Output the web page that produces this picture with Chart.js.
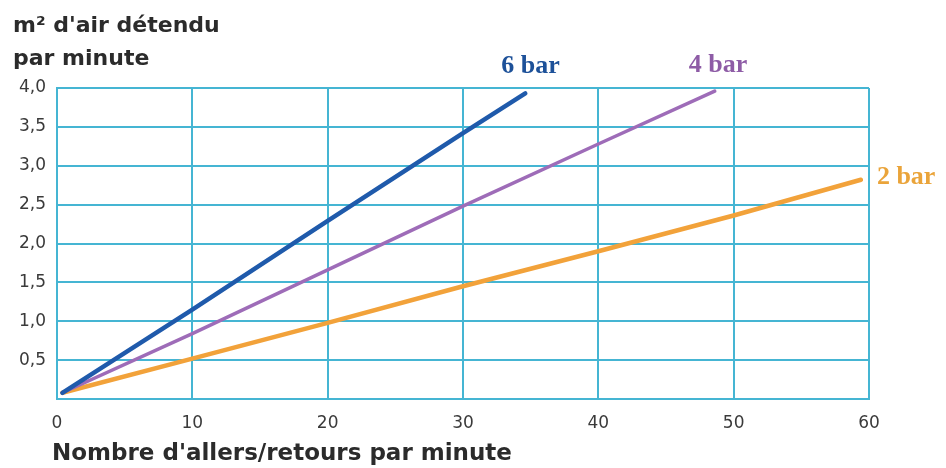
<!DOCTYPE html>
<html>
<head>
<meta charset="utf-8">
<script src="https://cdn.jsdelivr.net/npm/chart.js@4"></script>
<style>
  html, body { margin: 0; padding: 0; background: #fff; }
  #wrap { width: 946px; height: 468px; }
</style>
</head>
<body>
<div id="wrap"><canvas id="airChart"></canvas></div>
<script>
// values (x = allers/retours par minute, y = m² d'air)
const seriesNames = ['6 bar', '4 bar', '2 bar'];
const x6 = [0.4, 10, 20, 30, 34.6];
const y6 = [0.08, 1.15, 2.29, 3.42, 3.93];
const x4 = [0.4, 10, 20, 30, 40, 48.6];
const y4 = [0.08, 0.84, 1.66, 2.48, 3.28, 3.96];
const x2 = [0.4, 10, 20, 30, 40, 50, 59.4];
const y2 = [0.08, 0.52, 0.98, 1.45, 1.9, 2.36, 2.82];
const xTickLabels = ['0', '10', '20', '30', '40', '50', '60'];
const yTickLabels = ['', '0,5', '1,0', '1,5', '2,0', '2,5', '3,0', '3,5', '4,0'];

const lineColors = ['#1f5aab', '#9e6cb8', '#f2a23a'];
const labelColors = ['#1d5199', '#8e5ca6', '#eaa43a'];
const labelOffsets = [[-24, -27], [-26, -26], [16, -2]];
const gridColor = '#45b5d3';

function toPoints(xs, ys) {
  return xs.map((x, i) => ({ x: x, y: ys[i] }));
}

// draws the axis titles and the "x bar" labels
const textPlugin = {
  id: 'chartTexts',
  afterDraw(chart) {
    const ctx = chart.ctx;
    ctx.save();
    ctx.fillStyle = '#2b2b2b';
    ctx.textAlign = 'left';
    ctx.textBaseline = 'alphabetic';
    ctx.font = 'bold 22px "DejaVu Sans"';
    ctx.fillText("m² d'air détendu", 13, 32);
    ctx.fillText('par minute', 13, 65);
    ctx.font = 'bold 23px "DejaVu Sans"';
    ctx.fillText("Nombre d'allers/retours par minute", 52, 460);

    ctx.font = 'bold 26px "Liberation Serif"';
    ctx.textBaseline = 'middle';
    chart.data.datasets.forEach((ds, i) => {
      const meta = chart.getDatasetMeta(i);
      const last = meta.data[meta.data.length - 1];
      ctx.fillStyle = labelColors[i];
      ctx.fillText(seriesNames[i], last.x + labelOffsets[i][0], last.y + labelOffsets[i][1]);
    });
    ctx.restore();
  }
};

const ctx = document.getElementById('airChart').getContext('2d');
new Chart(ctx, {
  type: 'line',
  data: {
    datasets: [
      { label: seriesNames[0], data: toPoints(x6, y6) },
      { label: seriesNames[1], data: toPoints(x4, y4) },
      { label: seriesNames[2], data: toPoints(x2, y2) }
    ].map((ds, i) => Object.assign(ds, {
      borderColor: lineColors[i],
      borderWidth: i === 1 ? 3.5 : 4.5,
      pointRadius: 0,
      fill: false,
      tension: 0,
      borderCapStyle: 'round'
    }))
  },
  options: {
    responsive: true,
    maintainAspectRatio: false,
    animation: false,
    layout: { padding: { top: 88, right: 77, left: 0, bottom: 0 } },
    plugins: {
      legend: { display: false },
      tooltip: { enabled: false }
    },
    scales: {
      x: {
        type: 'linear',
        min: 0,
        max: 60,
        afterFit: (scale) => { scale.height = 69; },
        ticks: {
          stepSize: 10,
          padding: 14,
          color: '#3a3a3a',
          font: { family: 'DejaVu Sans', size: 17 },
          callback: (v, i) => xTickLabels[i]
        },
        grid: { color: gridColor, lineWidth: 2, drawTicks: false },
        border: { color: gridColor, width: 2 }
      },
      y: {
        min: 0,
        max: 4,
        afterFit: (scale) => { scale.width = 57; },
        ticks: {
          stepSize: 0.5,
          padding: 11,
          color: '#3a3a3a',
          font: { family: 'DejaVu Sans', size: 17 },
          callback: (v, i) => yTickLabels[i]
        },
        grid: { color: gridColor, lineWidth: 2, drawTicks: false },
        border: { color: gridColor, width: 2 }
      }
    }
  },
  plugins: [textPlugin]
});
</script>
</body>
</html>
